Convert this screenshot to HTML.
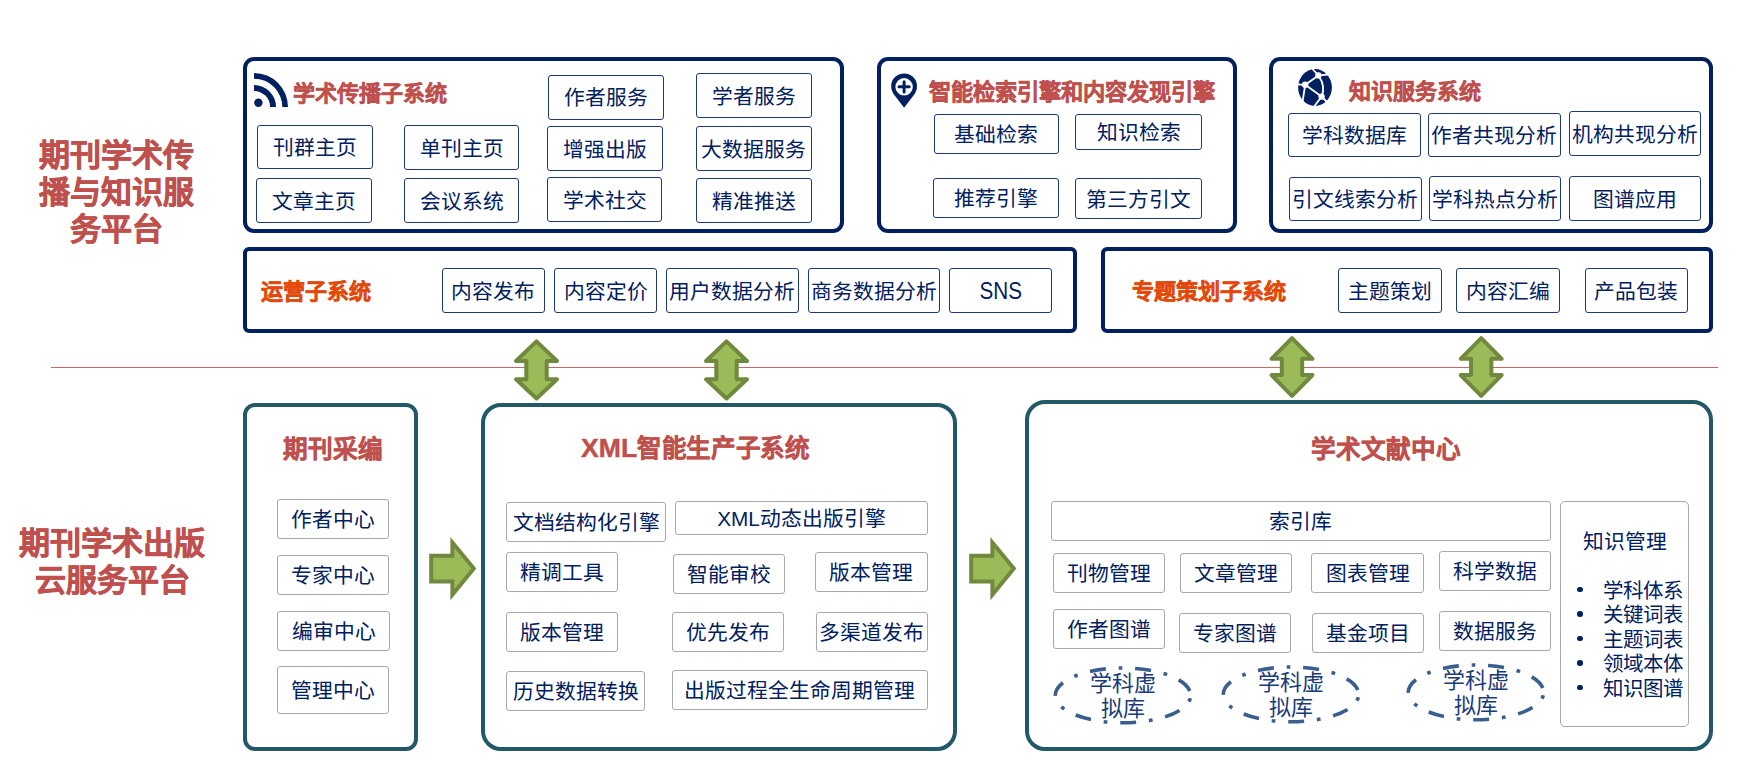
<!DOCTYPE html>
<html lang="zh-CN"><head><meta charset="utf-8">
<style>
html,body{margin:0;padding:0;background:#fff;}
body{width:1763px;height:784px;position:relative;overflow:hidden;font-family:"Liberation Sans",sans-serif;}
.pn{position:absolute;box-sizing:border-box;}
.bn,.bg{position:absolute;box-sizing:border-box;display:flex;align-items:center;justify-content:center;color:#002060;white-space:nowrap;line-height:1;}
.bn{border:1.4px solid #1c3a7a;border-radius:3px;}
.bg{border:1.4px solid #a8a8a8;border-radius:3px;}
.tx{position:absolute;white-space:nowrap;line-height:1;}
svg{position:absolute;left:0;top:0;}
</style></head><body>

<div style="position:absolute;left:51px;top:367px;width:1667px;height:1px;background:#cc6666"></div>
<div class="tx" style="left:20px;top:137px;width:192px;text-align:center;font-size:31px;line-height:37px;color:#C0504D;font-weight:bold;-webkit-text-stroke:0.6px #C0504D;white-space:normal">期刊学术传<br>播与知识服<br>务平台</div>
<div class="tx" style="left:12px;top:525px;width:200px;text-align:center;font-size:31px;line-height:37px;color:#C0504D;font-weight:bold;-webkit-text-stroke:0.6px #C0504D;white-space:normal">期刊学术出版<br>云服务平台</div>
<div class="pn" style="left:243px;top:57px;width:601px;height:176px;border:4px solid #002060;border-radius:11px"></div>
<div class="pn" style="left:877px;top:57px;width:360px;height:176px;border:4px solid #002060;border-radius:11px"></div>
<div class="pn" style="left:1269px;top:57px;width:444px;height:176px;border:4px solid #002060;border-radius:11px"></div>
<div class="pn" style="left:243px;top:247px;width:834px;height:86px;border:4px solid #002060;border-radius:6px"></div>
<div class="pn" style="left:1101px;top:247px;width:612px;height:86px;border:4px solid #002060;border-radius:6px"></div>
<div class="pn" style="left:243px;top:403px;width:175px;height:348px;border:4px solid #215968;border-radius:12px"></div>
<div class="pn" style="left:481px;top:403px;width:476px;height:348px;border:4px solid #215968;border-radius:20px"></div>
<div class="pn" style="left:1025px;top:400px;width:688px;height:351px;border:4px solid #215968;border-radius:20px"></div>
<div class="tx" style="left:293px;top:83px;font-size:22px;color:#C0504D;font-weight:bold;-webkit-text-stroke:0.45px #C0504D;">学术传播子系统</div>
<div class="bn" style="left:256.50px;top:124.80px;width:116.60px;height:44.30px;"><span style="position:relative;left:0px;top:1.5px;font-size:20.75px">刊群主页</span></div>
<div class="bn" style="left:403.90px;top:124.80px;width:115.30px;height:45.50px;"><span style="position:relative;left:0px;top:1.5px;font-size:20.75px">单刊主页</span></div>
<div class="bn" style="left:255.90px;top:178.00px;width:116.30px;height:45.20px;"><span style="position:relative;left:0px;top:1.5px;font-size:20.75px">文章主页</span></div>
<div class="bn" style="left:403.90px;top:178.00px;width:115.30px;height:45.20px;"><span style="position:relative;left:0px;top:1.5px;font-size:20.75px">会议系统</span></div>
<div class="bn" style="left:547.90px;top:74.60px;width:116.20px;height:45.20px;"><span style="position:relative;left:0px;top:1.5px;font-size:20.75px">作者服务</span></div>
<div class="bn" style="left:695.70px;top:72.90px;width:116.40px;height:45.20px;"><span style="position:relative;left:0px;top:1.5px;font-size:20.75px">学者服务</span></div>
<div class="bn" style="left:546.90px;top:126.00px;width:116.10px;height:45.20px;"><span style="position:relative;left:0px;top:1.5px;font-size:20.75px">增强出版</span></div>
<div class="bn" style="left:695.70px;top:126.00px;width:116.40px;height:45.20px;"><span style="position:relative;left:0px;top:1.5px;font-size:20.75px">大数据服务</span></div>
<div class="bn" style="left:546.90px;top:177.10px;width:115.30px;height:45.20px;"><span style="position:relative;left:0px;top:1.5px;font-size:20.75px">学术社交</span></div>
<div class="bn" style="left:695.70px;top:178.20px;width:116.40px;height:44.80px;"><span style="position:relative;left:0px;top:1.5px;font-size:20.75px">精准推送</span></div>
<div class="tx" style="left:929px;top:81.5px;font-size:22.2px;color:#C0504D;font-weight:bold;-webkit-text-stroke:0.45px #C0504D;">智能检索引擎和内容发现引擎</div>
<div class="bn" style="left:933.70px;top:113.70px;width:125.40px;height:40.50px;"><span style="position:relative;left:0px;top:1.5px;font-size:20.75px">基础检索</span></div>
<div class="bn" style="left:1075.00px;top:113.70px;width:127.10px;height:36.20px;"><span style="position:relative;left:0px;top:1.5px;font-size:20.75px">知识检索</span></div>
<div class="bn" style="left:933.00px;top:178.00px;width:126.10px;height:39.70px;"><span style="position:relative;left:0px;top:1.5px;font-size:20.75px">推荐引擎</span></div>
<div class="bn" style="left:1075.00px;top:178.00px;width:127.10px;height:40.90px;"><span style="position:relative;left:0px;top:1.5px;font-size:20.75px">第三方引文</span></div>
<div class="tx" style="left:1349px;top:81px;font-size:22px;color:#C0504D;font-weight:bold;-webkit-text-stroke:0.45px #C0504D;">知识服务系统</div>
<div class="bn" style="left:1287.70px;top:112.60px;width:133.20px;height:44.30px;"><span style="position:relative;left:0px;top:1.5px;font-size:20.75px">学科数据库</span></div>
<div class="bn" style="left:1427.80px;top:112.60px;width:133.20px;height:44.30px;"><span style="position:relative;left:0px;top:1.5px;font-size:20.75px">作者共现分析</span></div>
<div class="bn" style="left:1568.70px;top:110.80px;width:132.70px;height:45.40px;"><span style="position:relative;left:0px;top:1.5px;font-size:20.75px">机构共现分析</span></div>
<div class="bn" style="left:1288.70px;top:176.80px;width:133.00px;height:44.60px;"><span style="position:relative;left:0px;top:1.5px;font-size:20.75px">引文线索分析</span></div>
<div class="bn" style="left:1428.60px;top:176.00px;width:132.40px;height:45.40px;"><span style="position:relative;left:0px;top:1.5px;font-size:20.75px">学科热点分析</span></div>
<div class="bn" style="left:1568.70px;top:176.00px;width:132.70px;height:45.40px;"><span style="position:relative;left:0px;top:1.5px;font-size:20.75px">图谱应用</span></div>
<div class="tx" style="left:261px;top:280.5px;font-size:22px;color:#E4480A;font-weight:bold;-webkit-text-stroke:0.45px #E4480A;">运营子系统</div>
<div class="bn" style="left:441.70px;top:267.70px;width:103.50px;height:45.80px;"><span style="position:relative;left:0px;top:1.5px;font-size:20.75px">内容发布</span></div>
<div class="bn" style="left:553.80px;top:267.70px;width:103.60px;height:45.80px;"><span style="position:relative;left:0px;top:1.5px;font-size:20.75px">内容定价</span></div>
<div class="bn" style="left:665.90px;top:267.90px;width:133.00px;height:45.20px;"><span style="position:relative;left:0px;top:1.5px;font-size:20.75px">用户数据分析</span></div>
<div class="bn" style="left:808.10px;top:267.90px;width:131.90px;height:45.20px;"><span style="position:relative;left:0px;top:1.5px;font-size:20.75px">商务数据分析</span></div>
<div class="bn" style="left:948.8px;top:267.8px;width:103.5px;height:45.5px"><span style="display:inline-block;font-size:24px;transform:scaleX(0.86);position:relative;top:0.5px">SNS</span></div>
<div class="tx" style="left:1132px;top:280.5px;font-size:22px;color:#E4480A;font-weight:bold;-webkit-text-stroke:0.45px #E4480A;">专题策划子系统</div>
<div class="bn" style="left:1337.70px;top:267.90px;width:104.10px;height:45.10px;"><span style="position:relative;left:0px;top:1.5px;font-size:20.75px">主题策划</span></div>
<div class="bn" style="left:1455.90px;top:267.90px;width:104.10px;height:45.10px;"><span style="position:relative;left:0px;top:1.5px;font-size:20.75px">内容汇编</span></div>
<div class="bn" style="left:1584.70px;top:267.90px;width:103.40px;height:45.10px;"><span style="position:relative;left:0px;top:1.5px;font-size:20.75px">产品包装</span></div>
<div class="tx" style="left:283px;top:437.5px;font-size:24.6px;color:#C0504D;font-weight:bold;-webkit-text-stroke:0.45px #C0504D;">期刊采编</div>
<div class="bg" style="left:276.80px;top:498.80px;width:112.30px;height:40.30px;"><span style="position:relative;left:0px;top:1.5px;font-size:20.75px">作者中心</span></div>
<div class="bg" style="left:276.80px;top:555.10px;width:112.30px;height:40.10px;"><span style="position:relative;left:0px;top:1.5px;font-size:20.75px">专家中心</span></div>
<div class="bg" style="left:276.90px;top:611.10px;width:113.30px;height:40.00px;"><span style="position:relative;left:0px;top:1.5px;font-size:20.75px">编审中心</span></div>
<div class="bg" style="left:276.90px;top:666.20px;width:112.20px;height:47.90px;"><span style="position:relative;left:0px;top:1.5px;font-size:20.75px">管理中心</span></div>
<div class="tx" style="left:581px;top:434.5px;font-size:24.45px;color:#C0504D;font-weight:bold;-webkit-text-stroke:0.45px #C0504D;"><span style="font-size:26.6px">XML</span><span style="letter-spacing:0.65px">智能生产子系统</span></div>
<div class="bg" style="left:505.90px;top:501.90px;width:160.40px;height:39.70px;"><span style="position:relative;left:0px;top:1.5px;font-size:20.75px">文档结构化引擎</span></div>
<div class="bg" style="left:674.80px;top:501.20px;width:253.50px;height:33.70px;"><span style="position:relative;left:0px;top:1.5px;font-size:20.75px">XML动态出版引擎</span></div>
<div class="bg" style="left:505.90px;top:552.00px;width:111.90px;height:40.00px;"><span style="position:relative;left:0px;top:1.5px;font-size:20.75px">精调工具</span></div>
<div class="bg" style="left:672.80px;top:554.00px;width:112.50px;height:40.30px;"><span style="position:relative;left:0px;top:1.5px;font-size:20.75px">智能审校</span></div>
<div class="bg" style="left:814.60px;top:552.10px;width:113.70px;height:40.00px;"><span style="position:relative;left:0px;top:1.5px;font-size:20.75px">版本管理</span></div>
<div class="bg" style="left:506.00px;top:612.10px;width:112.00px;height:40.00px;"><span style="position:relative;left:0px;top:1.5px;font-size:20.75px">版本管理</span></div>
<div class="bg" style="left:671.90px;top:611.90px;width:112.30px;height:40.30px;"><span style="position:relative;left:0px;top:1.5px;font-size:20.75px">优先发布</span></div>
<div class="bg" style="left:815.80px;top:611.90px;width:112.20px;height:40.30px;"><span style="position:relative;left:0px;top:1.5px;font-size:20.75px">多渠道发布</span></div>
<div class="bg" style="left:506.00px;top:671.00px;width:139.10px;height:40.00px;"><span style="position:relative;left:0px;top:1.5px;font-size:20.75px">历史数据转换</span></div>
<div class="bg" style="left:671.90px;top:670.10px;width:256.10px;height:40.00px;"><span style="position:relative;left:0px;top:1.5px;font-size:20.75px">出版过程全生命周期管理</span></div>
<div class="tx" style="left:1311px;top:437.5px;font-size:24.6px;color:#C0504D;font-weight:bold;-webkit-text-stroke:0.45px #C0504D;">学术文献中心</div>
<div class="bg" style="left:1050.70px;top:500.80px;width:500.50px;height:40.30px;"><span style="position:relative;left:0px;top:1.5px;font-size:20.75px">索引库</span></div>
<div class="bg" style="left:1052.90px;top:552.80px;width:112.10px;height:40.10px;"><span style="position:relative;left:0px;top:1.5px;font-size:20.75px">刊物管理</span></div>
<div class="bg" style="left:1179.60px;top:552.80px;width:112.60px;height:40.10px;"><span style="position:relative;left:0px;top:1.5px;font-size:20.75px">文章管理</span></div>
<div class="bg" style="left:1310.70px;top:552.80px;width:113.70px;height:40.10px;"><span style="position:relative;left:0px;top:1.5px;font-size:20.75px">图表管理</span></div>
<div class="bg" style="left:1439.00px;top:551.00px;width:112.20px;height:40.30px;"><span style="position:relative;left:0px;top:1.5px;font-size:20.75px">科学数据</span></div>
<div class="bg" style="left:1052.90px;top:609.10px;width:112.10px;height:40.10px;"><span style="position:relative;left:0px;top:1.5px;font-size:20.75px">作者图谱</span></div>
<div class="bg" style="left:1179.00px;top:612.90px;width:112.00px;height:40.30px;"><span style="position:relative;left:0px;top:1.5px;font-size:20.75px">专家图谱</span></div>
<div class="bg" style="left:1311.80px;top:612.80px;width:112.20px;height:40.30px;"><span style="position:relative;left:0px;top:1.5px;font-size:20.75px">基金项目</span></div>
<div class="bg" style="left:1438.80px;top:610.70px;width:112.20px;height:40.40px;"><span style="position:relative;left:0px;top:1.5px;font-size:20.75px">数据服务</span></div>
<div class="bg" style="left:1559.8px;top:501px;width:129.1px;height:226px;display:block;border-radius:5px"></div>
<div class="tx" style="left:1583px;top:531.5px;font-size:20.75px;color:#002060;font-weight:normal;">知识管理</div>
<div style="position:absolute;left:1577px;top:586.75px;width:5.5px;height:5.5px;border-radius:50%;background:#002060"></div>
<div class="tx" style="left:1603px;top:580.5px;font-size:20.5px;color:#002060;font-weight:normal;">学科体系</div>
<div style="position:absolute;left:1577px;top:611.25px;width:5.5px;height:5.5px;border-radius:50%;background:#002060"></div>
<div class="tx" style="left:1603px;top:605.0px;font-size:20.5px;color:#002060;font-weight:normal;">关键词表</div>
<div style="position:absolute;left:1577px;top:635.75px;width:5.5px;height:5.5px;border-radius:50%;background:#002060"></div>
<div class="tx" style="left:1603px;top:629.5px;font-size:20.5px;color:#002060;font-weight:normal;">主题词表</div>
<div style="position:absolute;left:1577px;top:660.25px;width:5.5px;height:5.5px;border-radius:50%;background:#002060"></div>
<div class="tx" style="left:1603px;top:654.0px;font-size:20.5px;color:#002060;font-weight:normal;">领域本体</div>
<div style="position:absolute;left:1577px;top:684.75px;width:5.5px;height:5.5px;border-radius:50%;background:#002060"></div>
<div class="tx" style="left:1603px;top:678.5px;font-size:20.5px;color:#002060;font-weight:normal;">知识图谱</div>
<div class="tx" style="left:1073px;top:672px;width:100px;text-align:center;font-size:22px;line-height:24.5px;color:#1a3a78;font-family:'Liberation Serif',serif;white-space:normal">学科虚<br>拟库</div>
<div class="tx" style="left:1241px;top:671px;width:100px;text-align:center;font-size:22px;line-height:24.5px;color:#1a3a78;font-family:'Liberation Serif',serif;white-space:normal">学科虚<br>拟库</div>
<div class="tx" style="left:1426px;top:669px;width:100px;text-align:center;font-size:22px;line-height:24.5px;color:#1a3a78;font-family:'Liberation Serif',serif;white-space:normal">学科虚<br>拟库</div>
<svg width="1763" height="784" viewBox="0 0 1763 784">
<path d="M536.5,341.4 L557.0,361 L546.7,361 L546.7,379.3 L557.0,379.3 L536.5,398.5 L516.0,379.3 L526.3,379.3 L526.3,361 L516.0,361 Z" fill="#9BBB59" stroke="#71893F" stroke-width="4" stroke-linejoin="round"/>
<path d="M726.5,341.4 L747.0,361 L736.7,361 L736.7,379.3 L747.0,379.3 L726.5,398.5 L706.0,379.3 L716.3,379.3 L716.3,361 L706.0,361 Z" fill="#9BBB59" stroke="#71893F" stroke-width="4" stroke-linejoin="round"/>
<path d="M1292,338.2 L1312.5,358.8 L1302.2,358.8 L1302.2,375.1 L1312.5,375.1 L1292,395.9 L1271.5,375.1 L1281.8,375.1 L1281.8,358.8 L1271.5,358.8 Z" fill="#9BBB59" stroke="#71893F" stroke-width="4" stroke-linejoin="round"/>
<path d="M1481.2,338.2 L1501.7,358.8 L1491.4,358.8 L1491.4,375.1 L1501.7,375.1 L1481.2,395.9 L1460.7,375.1 L1471.0,375.1 L1471.0,358.8 L1460.7,358.8 Z" fill="#9BBB59" stroke="#71893F" stroke-width="4" stroke-linejoin="round"/>
<path d="M431.2,555.7 L452.4,555.7 L452.4,542.5 L473.8,568.6 L452.4,594.7 L452.4,581.6 L431.2,581.6 Z" fill="#9BBB59" stroke="#71893F" stroke-width="4" stroke-linejoin="miter"/>
<path d="M971.2,555.7 L992.4,555.7 L992.4,542.5 L1013.8,568.6 L992.4,594.7 L992.4,581.6 L971.2,581.6 Z" fill="#9BBB59" stroke="#71893F" stroke-width="4" stroke-linejoin="miter"/>
<ellipse cx="1123" cy="695.4" rx="67.7" ry="27.4" fill="none" stroke="#3A5F8F" stroke-width="3.6" stroke-dasharray="16 12.8 3.7 12.8" stroke-dashoffset="25.8"/>
<ellipse cx="1291" cy="694.4" rx="67.7" ry="27.4" fill="none" stroke="#3A5F8F" stroke-width="3.6" stroke-dasharray="16 12.8 3.7 12.8" stroke-dashoffset="25.8"/>
<ellipse cx="1476" cy="692.4" rx="67.7" ry="27.4" fill="none" stroke="#3A5F8F" stroke-width="3.6" stroke-dasharray="16 12.8 3.7 12.8" stroke-dashoffset="25.8"/>
<g fill="#002060"><path d="M254,73 A34,34 0 0 1 288,107 L282.3,107 A28.3,28.3 0 0 0 254,78.7 Z"/><path d="M254,85 A22,22 0 0 1 276,107 L270.1,107 A16.1,16.1 0 0 0 254,90.9 Z"/><circle cx="258.4" cy="102.7" r="4.2"/></g>
<g><path d="M904.1,107.8 L893.2,93.5 A13,13 0 1 1 915,93.5 Z" fill="#002060"/><circle cx="904.1" cy="86.8" r="8.7" fill="#fff"/><path d="M899,86.8 H909.2 M904.1,81.7 V91.9" stroke="#002060" stroke-width="3" stroke-linecap="round"/></g>
<g><ellipse cx="1315" cy="87.5" rx="16.9" ry="18.5" fill="#002060"/><g stroke="#fff" stroke-width="1.8" fill="none"><path d="M1312,68.5 L1318.4,75.4 L1328,74.5"/><path d="M1318.4,75.4 L1305.2,84.8 L1297,84.3"/><path d="M1305.2,84.8 L1302.5,102"/><path d="M1305.2,84.8 L1321.6,96.6"/><path d="M1318.4,75.4 Q1326,86 1321.6,96.6"/><path d="M1321.6,96.6 L1314.5,106 M1321.6,96.6 L1327,102"/></g><g fill="#fff"><circle cx="1318.4" cy="75.4" r="3.2"/><circle cx="1305.2" cy="84.8" r="3.2"/><circle cx="1321.6" cy="96.6" r="3.2"/></g></g>
</svg>
</body></html>
